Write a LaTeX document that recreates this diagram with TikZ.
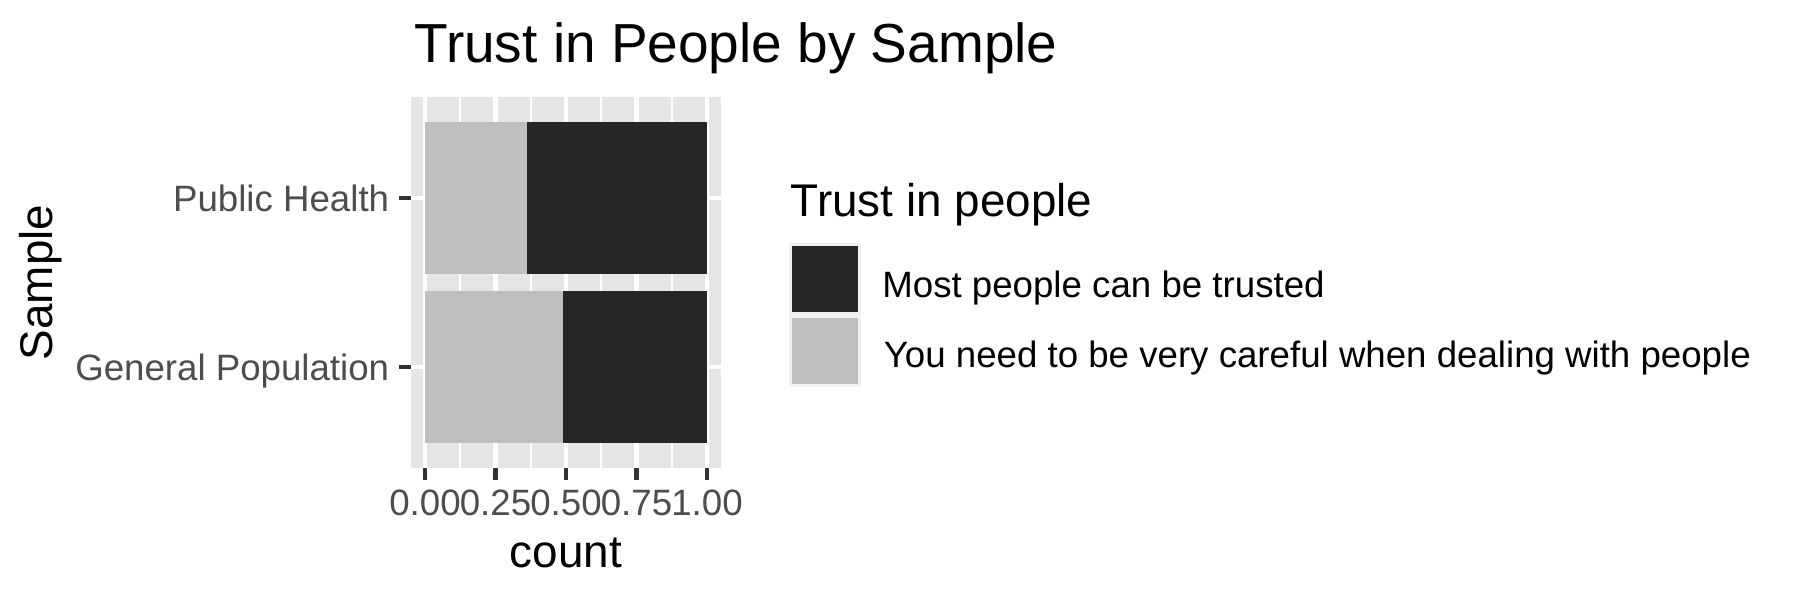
\documentclass[tikz,border=0pt]{standalone}
\usepackage{fontspec}
\setmainfont{Liberation Sans}
\definecolor{panelbg}{HTML}{E5E5E5}
\definecolor{darkfill}{HTML}{262626}
\definecolor{lightfill}{HTML}{BFBFBF}
\definecolor{keybg}{HTML}{F0F0F0}
\definecolor{axtext}{HTML}{4D4D4D}
\definecolor{tickcol}{HTML}{333333}
\tikzset{
  gridmaj/.style={white, line width=1.0pt},
  gridmin/.style={white, line width=0.5pt},
  axtick/.style={tickcol, line width=1pt},
  ticklab/.style={inner sep=0pt, text=axtext, font=\fontsize{8.8}{10}\selectfont},
  axtitle/.style={inner sep=0pt, text=black, font=\fontsize{11}{13}\selectfont},
  legtext/.style={inner sep=0pt, text=black, font=\fontsize{8.8}{10}\selectfont},
  plottitle/.style={inner sep=0pt, text=black, font=\fontsize{13.2}{15}\selectfont},
}
\begin{document}
\begin{tikzpicture}[x=0.24pt, y=-0.24pt]
\useasboundingbox (0,0) rectangle (1800,600);
\fill[white] (0,0) rectangle (1800,600);
% panel
\fill[panelbg] (411,96.7) rectangle (720.7,468.3);
\foreach \x in {460.25,530.75,601.25,671.75}
  \draw[gridmin] (\x,96.7) -- (\x,468.3);
\foreach \x in {425,495.5,566,636.5,707}
  \draw[gridmaj] (\x,96.7) -- (\x,468.3);
\foreach \y in {198,367}
  \draw[gridmaj] (411,\y) -- (720.7,\y);
% bars
\fill[lightfill] (425,122) rectangle (526.7,274);
\fill[darkfill] (526.7,122) rectangle (707,274);
\fill[lightfill] (425,291) rectangle (562.7,443);
\fill[darkfill] (562.7,291) rectangle (707,443);
% ticks
\foreach \x in {425,495.5,566,636.5,707}
  \draw[axtick] (\x,468.3) -- (\x,480);
\foreach \y in {198,367}
  \draw[axtick] (399,\y) -- (411,\y);
% tick labels
\node[ticklab, anchor=base] (t0) at (425,515) {0.00};
\node[ticklab, anchor=base] (t1) at (495.5,515) {0.25};
\node[ticklab, anchor=base] (t2) at (566,515) {0.50};
\node[ticklab, anchor=base] (t3) at (636.5,515) {0.75};
\node[ticklab, anchor=base] (t4) at (707,515) {1.00};
\node[ticklab, anchor=base east] (ph) at (390,211.5) {Public Health};
\node[ticklab, anchor=base east] (gp) at (390,380.5) {General Population};
% axis titles
\node[axtitle, anchor=base] (xt) at (565.9,567.3) {count};
\node[axtitle, anchor=base, rotate=90] (yt) at (52.5,282.5) {Sample};
% title
\node[plottitle, anchor=base west] (title) at (413.7,62.3) {Trust in People by Sample};
% legend
\node[axtitle, anchor=base west] (lt) at (790,216.7) {Trust in people};
\fill[keybg] (789,242.7) rectangle (861,386.7);
\fill[darkfill] (792,246) rectangle (858,311.7);
\fill[lightfill] (792,318.3) rectangle (858,383.7);
\node[legtext, anchor=base west] (l1) at (881.5,297) {Most people can be trusted};
\node[legtext, anchor=base west] (l2) at (883,367.5) {You need to be very careful when dealing with people};
\end{tikzpicture}
\end{document}
